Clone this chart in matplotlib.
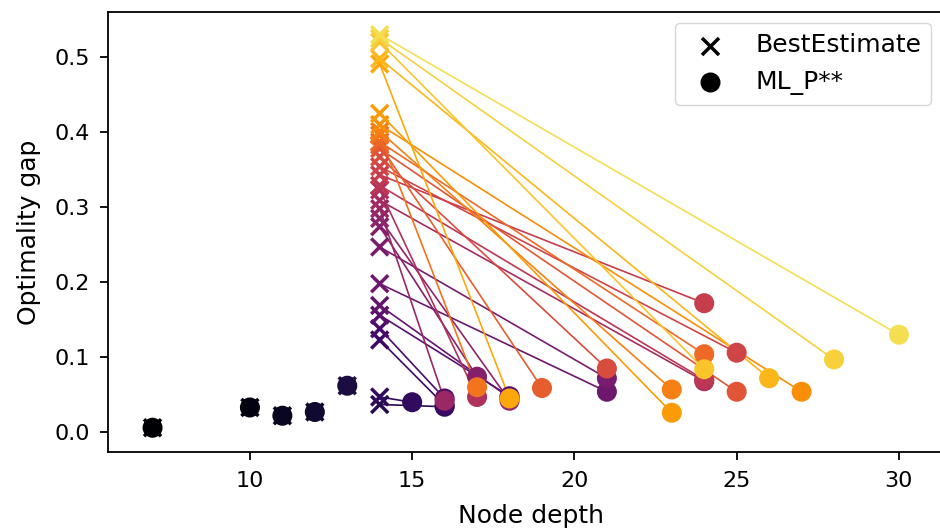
import numpy as np
import matplotlib.pyplot as plt

# best estimate (x markers) and ML_P** (circles), one entry per instance
best_depth = [7, 10, 11, 12, 13] + [14] * 29
best_gap = [0.006, 0.033, 0.022, 0.027, 0.062,
            0.037, 0.047, 0.123, 0.138, 0.156, 0.169, 0.198, 0.247, 0.274, 0.285,
            0.298, 0.309, 0.323, 0.329, 0.343, 0.354, 0.367, 0.378, 0.383, 0.387,
            0.396, 0.401, 0.410, 0.425, 0.491, 0.498, 0.520, 0.525, 0.530]
ml_depth = [7, 10, 11, 12, 13,
            16, 15, 16, 16, 18, 18, 21, 21, 17, 18,
            16, 24, 17, 24, 24, 25, 21, 25, 19, 24,
            17, 23, 27, 23, 18, 26, 24, 28, 30]
ml_gap = [0.006, 0.033, 0.022, 0.027, 0.062,
          0.034, 0.040, 0.036, 0.045, 0.048, 0.046, 0.054, 0.072, 0.074, 0.042,
          0.042, 0.068, 0.047, 0.070, 0.172, 0.106, 0.085, 0.054, 0.059, 0.104,
          0.060, 0.057, 0.054, 0.026, 0.045, 0.072, 0.084, 0.097, 0.130]

n = len(best_gap)
cmap = plt.get_cmap('inferno')
colors = [cmap(i / (n + 2)) for i in range(n)]

fig = plt.figure(figsize=(9.4, 5.28), dpi=100)
ax = fig.add_axes([0.115, 0.143, 0.9, 0.834])

for i in range(n):
    ax.plot([best_depth[i], ml_depth[i]], [best_gap[i], ml_gap[i]],
            color=colors[i], linewidth=1.2, zorder=1)
ax.scatter(best_depth, best_gap, marker='x', s=150, linewidths=2.5, c=colors,
           zorder=2, label='BestEstimate')
ax.scatter(ml_depth, ml_gap, marker='o', s=180, c=colors, zorder=3,
           label='ML_P**')

ax.set_xlim(5.63, 31.7)
ax.set_ylim(-0.027, 0.56)
ax.set_xticks([10, 15, 20, 25, 30])
ax.set_yticks([0.0, 0.1, 0.2, 0.3, 0.4, 0.5])
ax.tick_params(labelsize=16, length=6, width=1.3, pad=7)
for s in ax.spines.values():
    s.set_linewidth(1.3)
ax.spines['right'].set_visible(False)
ax.set_xlabel('Node depth', fontsize=18, labelpad=10)
ax.set_ylabel('Optimality gap', fontsize=18, labelpad=10)

leg = ax.legend(loc='upper right', fontsize=18, bbox_to_anchor=(0.988, 1.003),
                borderpad=0.4)
for h in leg.legend_handles:
    h.set_color('black')

fig.savefig('out.png', dpi=100)
